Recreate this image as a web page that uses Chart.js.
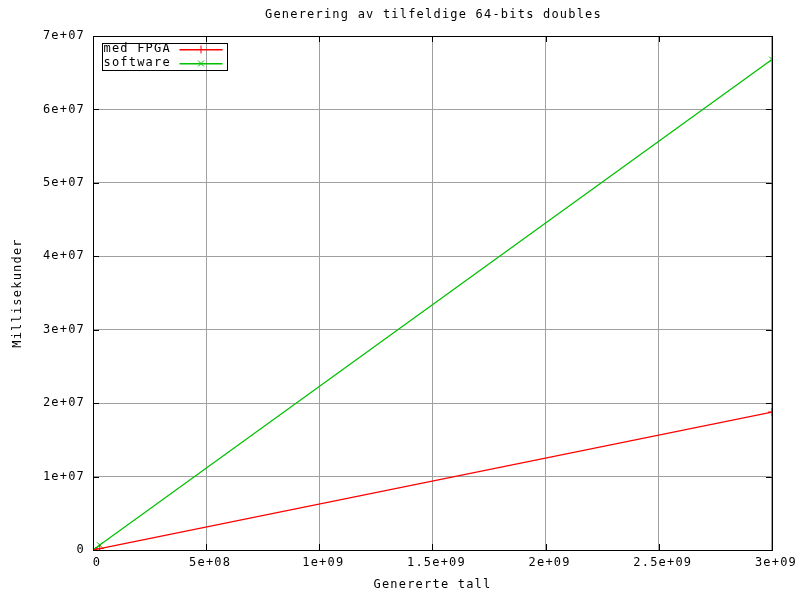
<!DOCTYPE html>
<html>
<head>
<meta charset="utf-8">
<script src="https://cdn.jsdelivr.net/npm/chart.js@4"></script>
<style>
  html, body { margin: 0; padding: 0; background: #fff; }
  #wrap { width: 799px; height: 592px; }
</style>
</head>
<body>
<div id="wrap"><canvas id="chart" width="799" height="592"></canvas></div>
<script>
// values
const xValues = [0, 3e7, 3e9];
const fpgaValues = [0, 1.9e5, 1.879e7];
const softwareValues = [0, 6.7e5, 6.68e7];
const seriesNames = ["med FPGA", "software"];
const chartTitle = "Generering av tilfeldige 64-bits doubles";
const xTicks = [0, 5e8, 1e9, 1.5e9, 2e9, 2.5e9, 3e9];
const yTicks = [0, 1e7, 2e7, 3e7, 4e7, 5e7, 6e7, 7e7];

const FONT = "'DejaVu Sans Mono', monospace";
const SPACING = "1.2px";

// gnuplot style numbers: 5e+08, 1.5e+09
function gnuFormat(v) {
  if (v === 0) return "0";
  return v.toExponential().replace(/e([+-])(\d)$/, "e$10$2");
}

function toPoints(ys) {
  return xValues.map((x, i) => ({ x: x, y: ys[i] }));
}

// letter spacing so the mono font spreads like the old bitmap font
const spacingPlugin = {
  id: "spacing",
  beforeLayout(chart) { chart.ctx.letterSpacing = SPACING; },
  beforeDraw(chart) { chart.ctx.letterSpacing = SPACING; }
};

// title over the plot, frame, inward tick marks and the boxed legend
const framePlugin = {
  id: "frame",
  afterDraw(chart) {
    const ctx = chart.ctx;
    const a = chart.chartArea;
    const xs = chart.scales.x;
    const ys = chart.scales.y;
    ctx.save();
    ctx.font = "12px " + FONT;
    ctx.letterSpacing = SPACING;
    ctx.fillStyle = "#000";
    ctx.textAlign = "center";
    ctx.textBaseline = "middle";
    ctx.fillText(chartTitle, (a.left + a.right) / 2 + 1, 15);

    ctx.strokeStyle = "#000";
    ctx.lineWidth = 1;

    // tick marks on all four sides
    ctx.beginPath();
    xTicks.forEach(v => {
      const px = Math.round(xs.getPixelForValue(v)) + 0.5;
      ctx.moveTo(px, a.bottom); ctx.lineTo(px, a.bottom - 6);
      ctx.moveTo(px, a.top); ctx.lineTo(px, a.top + 6);
    });
    yTicks.forEach(v => {
      const py = Math.round(ys.getPixelForValue(v)) + 0.5;
      ctx.moveTo(a.left, py); ctx.lineTo(a.left + 6, py);
      ctx.moveTo(a.right, py); ctx.lineTo(a.right - 6, py);
    });
    ctx.stroke();

    ctx.strokeRect(Math.round(a.left) + 0.5, Math.round(a.top) + 0.5,
      Math.round(a.right - a.left), Math.round(a.bottom - a.top));

    // legend
    const bx = Math.round(a.left) + 9.5, by = Math.round(a.top) + 7.5;
    ctx.strokeStyle = "#000";
    ctx.strokeRect(bx, by, 125, 27);
    ctx.textAlign = "left";
    chart.data.datasets.forEach((ds, i) => {
      const y = Math.round(by + 5.5 + i * 13.5);
      ctx.fillStyle = "#000";
      ctx.fillText(ds.label, bx + 1, y);
      ctx.fillStyle = ds.borderColor;
      ctx.fillRect(bx + 77, y, 43, 1.5);
      ctx.strokeStyle = ds.borderColor;
      const mx = bx + 98.5, my = y + 0.5;
      ctx.beginPath();
      if (i === 0) {
        ctx.moveTo(mx, my - 4); ctx.lineTo(mx, my + 4);
      } else {
        ctx.moveTo(mx - 3, my - 3); ctx.lineTo(mx + 3, my + 3);
        ctx.moveTo(mx - 3, my + 3); ctx.lineTo(mx + 3, my - 3);
      }
      ctx.stroke();
    });
    ctx.restore();
  }
};

const ctx = document.getElementById("chart").getContext("2d");

new Chart(ctx, {
  type: "line",
  data: {
    datasets: [
      {
        label: seriesNames[0],
        data: toPoints(fpgaValues),
        borderColor: "#ff0000",
        backgroundColor: "#ff0000",
        borderWidth: 1.2,
        pointStyle: "cross",
        pointRadius: 4,
        pointBorderWidth: 1,
        tension: 0,
        fill: false
      },
      {
        label: seriesNames[1],
        data: toPoints(softwareValues),
        borderColor: "#00c000",
        backgroundColor: "#00c000",
        borderWidth: 1.2,
        pointStyle: "crossRot",
        pointRadius: 4,
        pointBorderWidth: 1,
        tension: 0,
        fill: false
      }
    ]
  },
  options: {
    responsive: false,
    animation: false,
    devicePixelRatio: 1,
    layout: { padding: { top: 36, right: 25, bottom: 0, left: 0 } },
    plugins: {
      legend: { display: false },
      tooltip: { enabled: false },
      title: { display: false }
    },
    scales: {
      x: {
        type: "linear",
        min: 0,
        max: 3e9,
        afterBuildTicks: s => { s.ticks = xTicks.map(v => ({ value: v })); },
        afterFit: s => { s.height = 42; },
        grid: { color: "#a0a0a0", drawTicks: false },
        border: { display: false },
        ticks: {
          color: "#000",
          padding: 6,
          labelOffset: 4,
          maxRotation: 0,
          autoSkip: false,
          font: { family: FONT, size: 12 },
          callback: v => gnuFormat(v)
        },
        title: {
          display: true,
          text: "Genererte tall",
          color: "#000",
          font: { family: FONT, size: 12, lineHeight: 1.2 },
          padding: { top: 0, bottom: 0 }
        }
      },
      y: {
        type: "linear",
        min: 0,
        max: 7e7,
        afterBuildTicks: s => { s.ticks = yTicks.map(v => ({ value: v })); },
        afterFit: s => { s.width = 93; },
        grid: { color: "#a0a0a0", drawTicks: false },
        border: { display: false },
        ticks: {
          color: "#000",
          padding: 8,
          autoSkip: false,
          font: { family: FONT, size: 12 },
          callback: v => gnuFormat(v)
        },
        title: {
          display: true,
          text: "Millisekunder",
          color: "#000",
          font: { family: FONT, size: 12, lineHeight: 1.2 },
          padding: { top: 11, bottom: 0 }
        }
      }
    }
  },
  plugins: [spacingPlugin, framePlugin]
});
</script>
</body>
</html>
